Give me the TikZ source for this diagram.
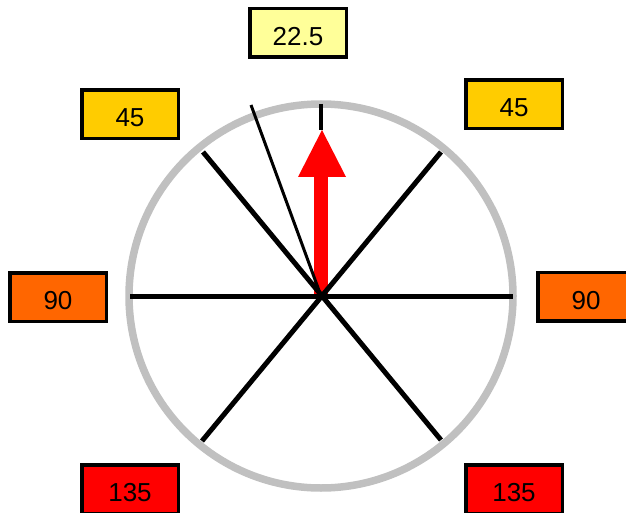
\documentclass[tikz,border=0pt]{standalone}
\usepackage{fontspec}
\setmainfont{Liberation Sans}
\definecolor{lyellow}{HTML}{FFFF99}
\definecolor{gold}{HTML}{FFCC00}
\definecolor{dorange}{HTML}{FF6600}
\definecolor{ringgray}{HTML}{C0C0C0}
\begin{document}
\begin{tikzpicture}[x=1pt,y=-1pt,
  lab/.style={draw=black,line width=3.5pt,minimum width=96.5pt,minimum height=48.5pt,inner sep=0pt,text height=25pt,text depth=0pt,font=\fontsize{26}{30}\selectfont},
  spoke/.style={line width=5pt,black},
  thin/.style={line width=3pt,black}]
\useasboundingbox (0,0) rectangle (626,513);
\coordinate (c) at (321,296);
% ring
\draw[ringgray,line width=7.5pt] (c) circle[radius=192];
% red arrow
\fill[red] (314,296) rectangle (328,176);
\fill[red] (298,177) -- (346,177) -- (322,130) -- cycle;
% spokes
\coordinate (w) at (130,296);
\coordinate (e) at (513,296);
\coordinate (nw) at (203,152);
\coordinate (se) at (441,440);
\coordinate (ne) at (441,152);
\coordinate (sw) at (202,441);
\coordinate (t1) at (321,104);
\coordinate (t2) at (321,130);
\coordinate (th) at (251,105);
\draw[spoke] (w) -- (e);
\draw[spoke] (nw) -- (se);
\draw[spoke] (ne) -- (sw);
\draw[line width=4pt] (t1) -- (t2);
\draw[thin] (th) -- (c);
% labels
\node[lab,fill=lyellow] (l225) at (298,33) {22.5};
\node[lab,fill=gold] (l45a) at (130,114.5) {45};
\node[lab,fill=gold] (l45b) at (514,104.5) {45};
\node[lab,fill=dorange] (l90a) at (58,297) {90};
\node[lab,fill=dorange] (l90b) at (586,296.5) {90};
\node[lab,fill=red] (l135a) at (130,489) {135};
\node[lab,fill=red] (l135b) at (514,489) {135};
\end{tikzpicture}
\end{document}
